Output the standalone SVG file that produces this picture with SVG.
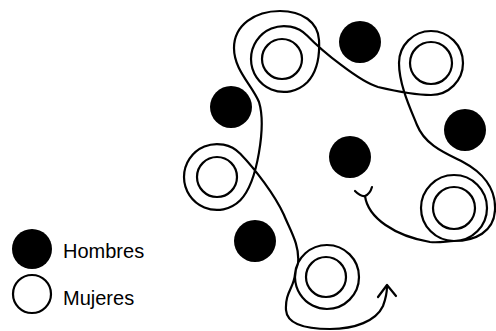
<svg xmlns="http://www.w3.org/2000/svg" width="496" height="331" viewBox="0 0 496 331">
<style>
.m{fill:#000}
.w{fill:#fff;stroke:#000;stroke-width:2.2}
.ln{fill:none;stroke:#000;stroke-width:2.2;stroke-linecap:round;stroke-linejoin:round}
.t{font-family:"Liberation Sans",Arial,sans-serif;font-size:20px;fill:#000}
</style>
<rect width="496" height="331" fill="#fff"/>
<g id="connectors">
<path class="ln" d="M365,196 C368,218 395,236 430,242 C440,243 447,241 454,241 A33,33 0 0 0 487,208 A33,33 0 0 0 454,175 A33,33 0 0 0 421,208 A33,33 0 0 0 454,241 C475,241 494,232 495,210 C496,188 482,172 463,162 C445,153 425,145 417,125 C411,110 399,85 399,63 A32,32 0 0 1 431,31 A32,32 0 0 1 463,63 A32,32 0 0 1 431,95 C415,95 395,91 378,87 C360,82 322,51 307.3,35.7 A33,33 0 0 0 251,59 A33,33 0 0 0 307.3,82.3 C316,73 320,58 319,40 C318,22 302,11 280,11 C255,11 234,25 234,48 C234,70 252,85 259,102 C266,125 258,182 240.3,200.3 A33,33 0 0 1 184,177 A33,33 0 0 1 240.3,153.7 C255,169 275,195 284,215 C290,230 300,245 298,263.5 A32,32 0 0 0 327,309 A32,32 0 0 0 327,245 A32,32 0 0 0 295,274 C294,288 285,292 286,310 C287,324 305,329 330,329 C355,329 376,321 383,306 C386,298 387,292 387,286"/>
<path class="ln" d="M378,297 L387,285 L396,296"/>
<path class="ln" d="M355,191 Q361,197 365,196 Q370,194 372,187"/>
</g>
<g id="m1"><circle class="m" cx="360" cy="42" r="21"/></g>
<g id="m2"><circle class="m" cx="231" cy="107" r="21"/></g>
<g id="m3"><circle class="m" cx="465" cy="130" r="21"/></g>
<g id="m4"><circle class="m" cx="350" cy="157" r="21"/></g>
<g id="m5"><circle class="m" cx="255" cy="241" r="21"/></g>
<g id="w1"><circle class="w" cx="282" cy="59" r="20"/></g>
<g id="w2"><circle class="w" cx="431" cy="63" r="21"/></g>
<g id="w3"><circle class="w" cx="217" cy="177" r="20"/></g>
<g id="w4"><circle class="w" cx="454" cy="208" r="21"/></g>
<g id="w5"><circle class="w" cx="326" cy="277" r="20"/></g>
<g id="legend-hombres">
<circle class="m" cx="32" cy="249" r="20"/>
<text class="t" x="63" y="258">Hombres</text>
</g>
<g id="legend-mujeres">
<circle class="w" cx="32" cy="294" r="19"/>
<text class="t" x="63" y="305">Mujeres</text>
</g>
</svg>
